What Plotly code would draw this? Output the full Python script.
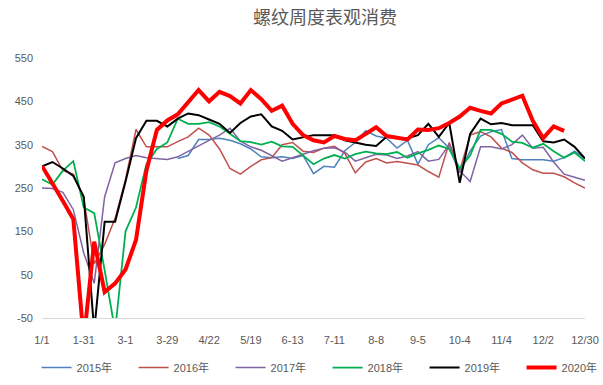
import plotly.graph_objects as go

# Weekly rebar apparent consumption (10k t), weeks of the year 0..52
weeks = list(range(53))
tick_pos = [0, 4, 8, 12, 16, 20, 24, 28, 32, 36, 40, 44, 48, 52]
tick_labels = ["1/1", "1-31", "3-1", "3-29", "4/22", "5/19", "6-13", "7-11",
               "8-8", "9-5", "10-4", "11/4", "12/2", "12/30"]
y_ticks = [-50, 50, 150, 250, 350, 450, 550]
y_tick_labels = ["-50", "50", "150", "250", "350", "450", "550"]

y2015 = [None] * 13 + [318, 325, 362, 362, 365, 360, 352, 340, 322, 320, 322,
                       318, 325, 283, 300, 298, 336, 355, 382, 370, 365, 342,
                       360, 305, 350, 366, 342, 285, 335, 370, 380, 385, 318,
                       315, 315, 315, 312, 320, 335, 318]
y2016 = [346, 334, 290, 282, 225, 75, 120, 180, 270, 385, 345, 345, 345, 357,
         368, 388, 372, 340, 295, 282, 300, 315, 320, 350, 355, 335, 332, 342,
         346, 330, 285, 310, 318, 308, 311, 307, 303, 288, 275, 355, 290, 372,
         380, 368, 342, 332, 308, 292, 284, 284, 276, 262, 250]
y2017 = [250, 249, 240, 200, 100, 30, 230, 308, 318, 325, 320, 318, 316, 322,
         335, 347, 360, 372, 388, 358, 345, 337, 325, 312, 320, 328, 336, 342,
         343, 333, 312, 320, 328, 326, 318, 324, 334, 312, 316, 350, 290, 265,
         345, 345, 340, 350, 372, 342, 344, 310, 282, 275, 268]
y2018 = [270, 258, 290, 312, 205, 192, 60, -80, 150, 205, 305, 340, 355, 410,
         398, 398, 402, 392, 375, 358, 356, 350, 357, 346, 345, 325, 305, 318,
         326, 318, 328, 334, 330, 328, 333, 320, 330, 338, 348, 340, 295, 325,
         384, 384, 375, 357, 354, 343, 352, 335, 320, 332, 312]
y2019 = [300, 310, 295, 278, 230, -80, 172, 172, 265, 365, 405, 405, 392, 410,
         422, 418, 408, 398, 377, 400, 415, 420, 392, 382, 362, 367, 372, 372,
         372, 360, 355, 350, 347, 368, 366, 365, 372, 398, 368, 400, 262, 375,
         410, 397, 400, 395, 395, 395, 358, 355, 362, 345, 318]
y2020 = [301, 262, 220, 178, -100, 126, 10, 30, 62, 130, 290, 384, 406, 420,
         448, 476, 450, 472, 462, 445, 476, 455, 428, 440, 398, 372, 360, 355,
         370, 363, 360, 375, 390, 370, 366, 362, 385, 384, 388, 400, 415, 435,
         428, 422, 445, 455, 463, 405, 365, 392, 382, None, None]

series = [
    ("2015年", y2015, "#4F81BD", 1.5),
    ("2016年", y2016, "#C0504D", 1.5),
    ("2017年", y2017, "#8064A2", 1.5),
    ("2018年", y2018, "#00B050", 1.8),
    ("2019年", y2019, "#000000", 2.0),
    ("2020年", y2020, "#FF0000", 4.0),
]

fig = go.Figure()
for name, vals, color, width in series:
    fig.add_trace(go.Scatter(
        x=weeks, y=vals, name=name, mode="lines",
        line=dict(color=color, width=width),
        connectgaps=False,
    ))

base_font = "Liberation Sans, Noto Sans CJK SC, sans-serif"

fig.update_layout(
    width=603, height=385,
    margin=dict(l=42, r=18, t=58, b=67, autoexpand=False),
    paper_bgcolor="white", plot_bgcolor="white",
    font=dict(family=base_font, size=11, color="#595959"),
    title=dict(
        text="螺纹周度表观消费",
        font=dict(family="Noto Sans CJK SC", size=18, color="#595959"),
        x=0.539, xanchor="center", xref="container",
        y=1 - 18 / 385, yanchor="middle", yref="container",
    ),
    showlegend=True,
    legend=dict(
        orientation="h", x=-0.01, xanchor="left", y=-0.135, yanchor="top",
        font=dict(size=11, color="#595959"),
        entrywidth=52, entrywidthmode="pixels",
        bgcolor="rgba(0,0,0,0)",
    ),
)

fig.update_xaxes(
    range=[0, 52], tickmode="array", tickvals=tick_pos, ticktext=tick_labels,
    showgrid=False, zeroline=False, showline=True, linecolor="#D9D9D9",
    linewidth=1, ticks="", ticklabelstandoff=12,
    tickfont=dict(size=11, color="#595959"),
)
fig.update_yaxes(
    range=[-50, 550], tickmode="array", tickvals=y_ticks, ticktext=y_tick_labels,
    showgrid=False, zeroline=False, showline=False, ticks="",
    ticklabelstandoff=8, tickfont=dict(size=11, color="#595959"),
)

fig.write_html("out.html")
